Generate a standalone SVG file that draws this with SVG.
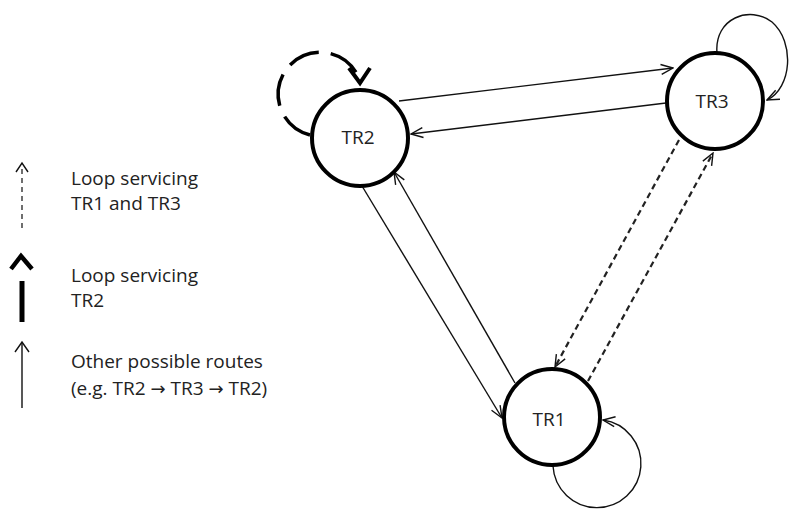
<svg xmlns="http://www.w3.org/2000/svg" width="797" height="509" viewBox="0 0 797 509">
<style>
.node{fill:#fff;stroke:#000;stroke-width:4}
.lbl{font-family:"Open Sans","Liberation Sans",sans-serif;font-size:19px;fill:#222}
.ar{font-family:"DejaVu Sans",sans-serif;font-size:18px}
.nl{font-family:"Open Sans","Liberation Sans",sans-serif;font-size:19px;fill:#222;text-anchor:middle}
.c{fill:none;stroke:#111;stroke-width:1.4}
.d{fill:none;stroke:#222;stroke-width:2.2;stroke-dasharray:6 4}
</style>
<defs>
<marker id="ah" viewBox="0 0 14 12" refX="13" refY="6" markerWidth="14" markerHeight="12" markerUnits="userSpaceOnUse" orient="auto">
<path d="M1,1 L13,6 L1,11" fill="none" stroke="#111" stroke-width="1.4" stroke-dasharray="none"/>
</marker>
</defs>
<g id="connectors">
<line class="c" x1="399" y1="101" x2="673" y2="68" marker-end="url(#ah)"/>
<line class="c" x1="666" y1="103" x2="411" y2="134" marker-end="url(#ah)"/>
<line class="c" x1="362" y1="186" x2="502" y2="418" marker-end="url(#ah)"/>
<line class="c" x1="515" y1="383" x2="394" y2="172" marker-end="url(#ah)"/>
<line class="d" x1="679" y1="140" x2="555" y2="367" marker-end="url(#ah)"/>
<line class="d" x1="588" y1="381" x2="713" y2="153" marker-end="url(#ah)"/>
<path class="c" d="M717,53 C714,18 750,5 772,22 C795,42 792,88 767,100" marker-end="url(#ah)"/>
<path class="c" d="M553,466 A44,44 0 1 0 603,420" marker-end="url(#ah)"/>
<path d="M310,135 A42,42 0 1 1 360,81" fill="none" stroke="#000" stroke-width="3.5" stroke-dasharray="32 12"/>
<path d="M349,68 L360,83 L370,68" fill="none" stroke="#000" stroke-width="4" stroke-linejoin="miter"/>
</g>
<g id="TR2">
<circle class="node" cx="360" cy="138" r="48"/>
<text class="nl" x="358" y="144">TR2</text>
</g>
<g id="TR3">
<circle class="node" cx="715" cy="101" r="48"/>
<text class="nl" x="712" y="108">TR3</text>
</g>
<g id="TR1">
<circle class="node" cx="552" cy="417" r="48"/>
<text class="nl" x="549" y="426">TR1</text>
</g>
<g id="legend">
<line x1="22" y1="228" x2="22" y2="165" stroke="#222" stroke-width="1.3" stroke-dasharray="5 4"/>
<path d="M16,172 L22,163 L28,172" fill="none" stroke="#111" stroke-width="1.4"/>
<text class="lbl" x="71" y="185">Loop servicing</text>
<text class="lbl" x="71" y="210">TR1 and TR3</text>
<line x1="22" y1="281" x2="22" y2="322" stroke="#000" stroke-width="5"/>
<path d="M11,269 L21,256 L32,269" fill="none" stroke="#000" stroke-width="4.5"/>
<text class="lbl" x="71" y="282">Loop servicing</text>
<text class="lbl" x="71" y="307">TR2</text>
<line x1="22" y1="408" x2="22" y2="343" stroke="#111" stroke-width="1.4"/>
<path d="M15,352 L22,342 L29,352" fill="none" stroke="#111" stroke-width="1.4"/>
<text class="lbl" x="71" y="368">Other possible routes</text>
<text class="lbl" x="71" y="395">(e.g. TR2 <tspan class="ar">→</tspan> TR3 <tspan class="ar">→</tspan> TR2)</text>
</g>
</svg>
